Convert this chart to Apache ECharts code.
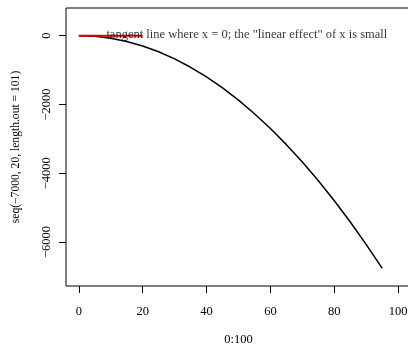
<!DOCTYPE html>
<html>
<head>
<meta charset="utf-8">
<script src="https://cdn.jsdelivr.net/npm/echarts@6/dist/echarts.min.js"></script>
<style>
  html, body { margin: 0; padding: 0; background: #fff; }
  #chart { width: 408px; height: 345px; }
</style>
</head>
<body>
<div id="chart"></div>
<script>
// quadratic response curve, sampled every 5 units of x
const curveX = [0, 5, 10, 15, 20, 25, 30, 35, 40, 45, 50, 55, 60, 65, 70, 75, 80, 85, 90, 95];
const curveY = [0, -19, -75, -169, -300, -469, -675, -919, -1200, -1519, -1875, -2269,
                -2700, -3169, -3675, -4219, -4800, -5419, -6075, -6769];

// tangent at x = 0 (slope zero)
const tangentX = [0, 20];
const tangentY = [0, 0];

// annotation anchor
const noteX = [52.6];
const noteY = [0];
const noteText = 'tangent line where x = 0; the "linear effect" of x is small';

// axis ticks and limits
const xTicks = [0, 20, 40, 60, 80, 100];
const yTicks = [0, -2000, -4000, -6000];
const xRange = [-4, 104];
const yRange = [-7280, 805];
const xTitle = '0:100';
const yTitle = 'seq(\u22127000, 20, length.out = 101)';

const font = '"Liberation Serif", "DejaVu Serif", serif';
const fs = 12.5;
const fmt = v => String(v).replace('-', '\u2212');

const chart = echarts.init(document.getElementById('chart'), null, { renderer: 'canvas' });
chart.setOption({
  animation: false,
  backgroundColor: '#ffffff',
  textStyle: { fontFamily: font },
  grid: {
    left: 66, top: 8, width: 345, height: 278,
    outerBoundsMode: 'none', containLabel: false,
    show: true, borderColor: '#000', borderWidth: 1, backgroundColor: 'transparent'
  },
  xAxis: {
    type: 'value', min: xRange[0], max: xRange[1], position: 'bottom',
    axisLine: { show: false, onZero: false },
    splitLine: { show: false },
    axisTick: { show: true, customValues: xTicks, length: 7, lineStyle: { color: '#000', width: 1 } },
    axisLabel: { customValues: xTicks, color: '#000', fontFamily: font, fontSize: fs, margin: 19, formatter: fmt },
    name: xTitle, nameLocation: 'middle', nameGap: 47,
    nameTextStyle: { color: '#000', fontFamily: font, fontSize: fs }
  },
  yAxis: {
    type: 'value', min: yRange[0], max: yRange[1], position: 'left',
    axisLine: { show: false, onZero: false },
    splitLine: { show: false },
    axisTick: { show: true, customValues: yTicks, length: 7, lineStyle: { color: '#000', width: 1 } },
    axisLabel: { customValues: yTicks, color: '#000', fontFamily: font, fontSize: fs, rotate: 90, margin: 13, formatter: fmt },
    name: yTitle, nameLocation: 'middle', nameGap: 44, nameRotate: 90,
    nameTextStyle: { color: '#000', fontFamily: font, fontSize: 11.6 }
  },
  series: [
    {
      type: 'line',
      data: curveX.map((x, i) => [x, curveY[i]]),
      showSymbol: false, symbol: 'none',
      lineStyle: { color: '#000', width: 1.5 },
      z: 2
    },
    {
      type: 'line',
      data: tangentX.map((x, i) => [x, tangentY[i]]),
      showSymbol: false, symbol: 'none',
      lineStyle: { color: '#dd0000', width: 2 },
      z: 3
    },
    {
      type: 'scatter',
      data: noteX.map((x, i) => [x, noteY[i]]),
      symbolSize: 0,
      label: {
        show: true, position: 'inside', formatter: noteText,
        color: '#000', fontFamily: font, fontSize: fs, offset: [0, -1]
      },
      z: 4
    }
  ]
});
</script>
</body>
</html>
